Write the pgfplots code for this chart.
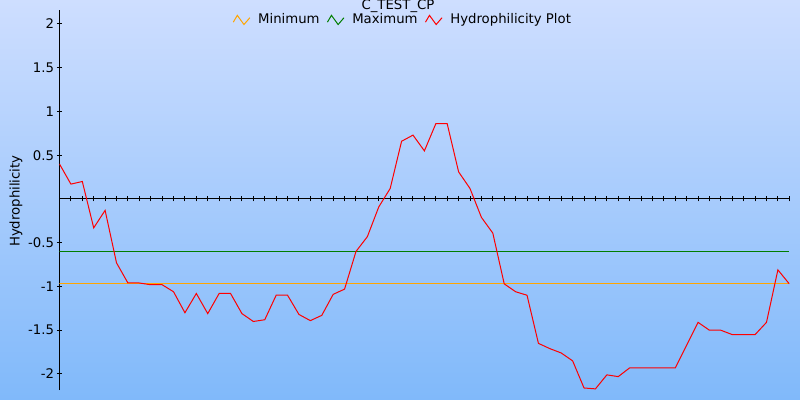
\documentclass[border=0pt]{standalone}
\usepackage{pgfplots}
\pgfplotsset{compat=1.18}
\usepackage{fontspec}
\setmainfont{DejaVu Sans}
\definecolor{bgtop}{RGB}{206,222,255}
\definecolor{bgbot}{RGB}{128,185,250}
\definecolor{minc}{RGB}{255,165,0}
\definecolor{maxc}{RGB}{0,125,0}
\pgfplotstableread{
x y
0 0.40
1 0.17
2 0.20
3 -0.33
4 -0.13
5 -0.73
6 -0.96
7 -0.96
8 -0.98
9 -0.98
10 -1.06
11 -1.30
12 -1.08
13 -1.31
14 -1.08
15 -1.08
16 -1.31
17 -1.40
18 -1.38
19 -1.10
20 -1.10
21 -1.32
22 -1.39
23 -1.33
24 -1.09
25 -1.03
26 -0.60
27 -0.43
28 -0.09
29 0.12
30 0.66
31 0.73
32 0.55
33 0.86
34 0.86
35 0.31
36 0.12
37 -0.21
38 -0.39
39 -0.97
40 -1.06
41 -1.10
42 -1.65
43 -1.71
44 -1.76
45 -1.85
46 -2.16
47 -2.17
48 -2.01
49 -2.03
50 -1.93
51 -1.93
52 -1.93
53 -1.93
54 -1.93
55 -1.67
56 -1.41
57 -1.50
58 -1.50
59 -1.55
60 -1.55
61 -1.55
62 -1.41
63 -0.81
64 -0.97
}\hydro
\begin{document}
\fontsize{9.95pt}{12pt}\selectfont
\begin{tikzpicture}
\path[use as bounding box] (0,0) rectangle (600pt,300pt);
\shade[top color=bgtop,bottom color=bgbot] (0,0) rectangle (600pt,300pt);
\node[anchor=base,inner sep=0pt] at (298.5pt,293pt) {C\_TEST\_CP};
\begin{axis}[
  at={(44.625pt,7.5pt)}, anchor=south west,
  scale only axis, width=547.35pt, height=285pt,
  xmin=0, xmax=64, ymin=-2.183, ymax=2.16,
  axis lines=middle,
  axis line style={-, line width=0.75pt, black},
  xtick={0,...,64}, xticklabel=\empty,
  ytick={-2,-1.5,-1,-0.5,0.5,1,1.5,2},
  tick align=center, major tick length=3.75pt,
  tick style={black, line width=0.75pt},
  /pgf/number format/assume math mode=true,
  yticklabel style={inner sep=0pt, xshift=-2pt, anchor=east, font=\fontsize{9.95pt}{12pt}\selectfont},
  ylabel={Hydrophilicity},
  every axis y label/.style={at={(axis description cs:-0.0596,0.497)}, anchor=center, rotate=90, font=\fontsize{9.95pt}{12pt}\selectfont},
  legend style={draw=none, fill=none, at={(axis description cs:0.471,0.974)}, anchor=center, inner sep=0pt,
    font=\fontsize{9.95pt}{12pt}\selectfont,
    /tikz/every even column/.append style={column sep=3.5pt}},
  legend columns=3,
  legend image code/.code={\draw[#1] (0pt,-1.7pt) -- (3pt,3.4pt) -- (8pt,-3.5pt) -- (12.4pt,1.6pt); \path (16.25pt,0pt);},
]
\addplot[minc, line width=0.75pt] coordinates {(0,-0.966) (64,-0.966)};
\addlegendentry{Minimum}
\addplot[maxc, line width=0.75pt] coordinates {(0,-0.60) (64,-0.60)};
\addlegendentry{Maximum}
\addplot[red, line width=0.75pt] table[x=x,y=y] {\hydro};
\addlegendentry{Hydrophilicity Plot}
\end{axis}
\end{tikzpicture}
\end{document}
